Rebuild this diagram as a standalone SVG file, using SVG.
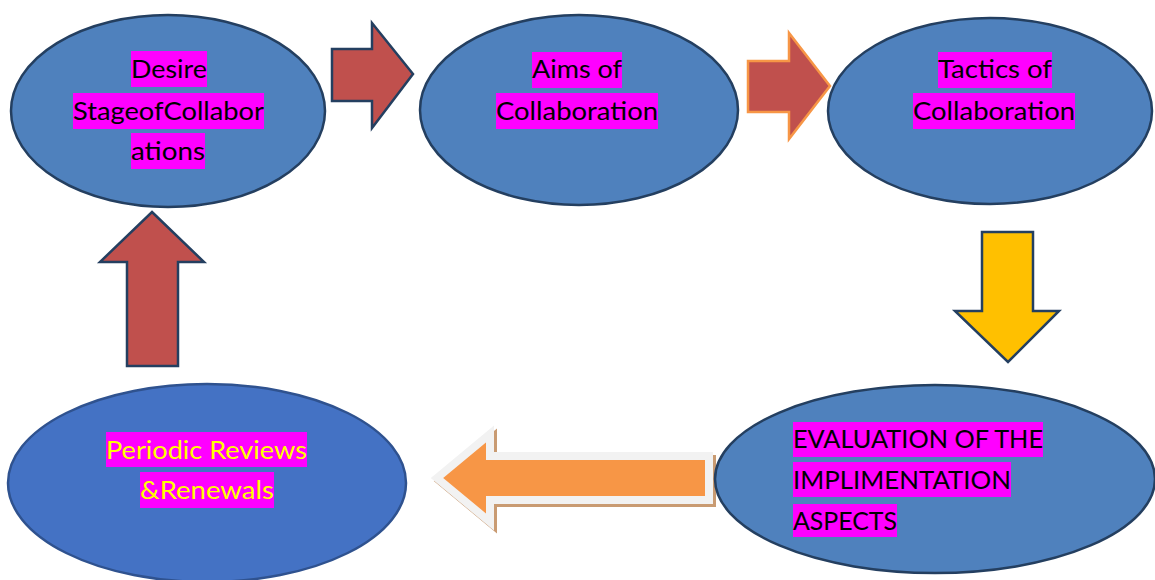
<svg xmlns="http://www.w3.org/2000/svg" width="1155" height="580" viewBox="0 0 1155 580">
<style>
.node{fill:#4f81bd;stroke:#243f60;stroke-width:2.5}
.node2{fill:#4472c4;stroke:#2f528f;stroke-width:2.5}
.hl{fill:#ff00ff}
.t{font-family:Lato,"Open Sans",sans-serif;font-size:25px;fill:#000}
.ty{font-family:Lato,"Open Sans",sans-serif;font-size:25px;fill:#ffff00}
.red{fill:#c0504d;stroke:#243f60;stroke-width:2.5;stroke-linejoin:miter}
</style>
<rect width="1155" height="580" fill="#ffffff"/>
<g id="connectors">
  <polygon class="red" points="332,49 372,49 372,23 413,74 372,128 372,101 332,101"/>
  <polygon points="748,61 789,61 789,33 830,86 789,139 789,112 748,112" fill="#c0504d" stroke="#f79646" stroke-width="2.5"/>
  <polygon points="982,232 1033,232 1033,311 1059,311 1008,362 955,311 982,311" fill="#ffc000" stroke="#243f60" stroke-width="2.5"/>
  <polygon class="red" points="152,212 204,262 178,262 178,366 127,366 127,262 100,262"/>
  <g id="left-arrow">
    <polygon points="440,481 493,437 493,459 712,459 712,503 493,503 493,525" fill="#c99b72" stroke="#c99b72" stroke-width="8" stroke-linejoin="miter"/>
    <polygon points="437,478 490,434 490,456 709,456 709,500 490,500 490,522" fill="#f79646" stroke="#f2f2f2" stroke-width="8" stroke-linejoin="miter"/>
  </g>
</g>
<g id="node-desire">
  <ellipse class="node" cx="168" cy="111" rx="157" ry="96"/>
  <rect class="hl" x="131" y="51" width="76" height="36"/>
  <rect class="hl" x="73" y="93" width="191" height="36"/>
  <rect class="hl" x="131" y="133" width="74" height="36"/>
  <text class="t" x="131" y="78" textLength="76" lengthAdjust="spacingAndGlyphs">Desire</text>
  <text class="t" x="73" y="120" textLength="191" lengthAdjust="spacingAndGlyphs">StageofCollabor</text>
  <text class="t" x="131" y="160" textLength="74" lengthAdjust="spacingAndGlyphs">ations</text>
</g>
<g id="node-aims">
  <ellipse class="node" cx="579" cy="110" rx="159" ry="95"/>
  <rect class="hl" x="532" y="52" width="90" height="36"/>
  <rect class="hl" x="496" y="93" width="162" height="36"/>
  <text class="t" x="532" y="78" textLength="90" lengthAdjust="spacingAndGlyphs">Aims of</text>
  <text class="t" x="496" y="120" textLength="162" lengthAdjust="spacingAndGlyphs">Collaboration</text>
</g>
<g id="node-tactics">
  <ellipse class="node" cx="990" cy="111" rx="162" ry="93"/>
  <rect class="hl" x="938" y="52" width="114" height="36"/>
  <rect class="hl" x="913" y="93" width="162" height="36"/>
  <text class="t" x="938" y="78" textLength="114" lengthAdjust="spacingAndGlyphs">Tactics of</text>
  <text class="t" x="913" y="120" textLength="162" lengthAdjust="spacingAndGlyphs">Collaboration</text>
</g>
<g id="node-evaluation">
  <ellipse class="node" cx="935" cy="479" rx="220" ry="94"/>
  <rect class="hl" x="793" y="422" width="250" height="35"/>
  <rect class="hl" x="793" y="462" width="218" height="35"/>
  <rect class="hl" x="793" y="504" width="104" height="33"/>
  <text class="t" x="793" y="448" textLength="250" lengthAdjust="spacingAndGlyphs">EVALUATION OF THE</text>
  <text class="t" x="793" y="489" textLength="218" lengthAdjust="spacingAndGlyphs">IMPLIMENTATION</text>
  <text class="t" x="793" y="530" textLength="104" lengthAdjust="spacingAndGlyphs">ASPECTS</text>
</g>
<g id="node-periodic">
  <ellipse class="node2" cx="207" cy="483" rx="199" ry="99"/>
  <rect class="hl" x="106" y="432" width="201" height="35"/>
  <rect class="hl" x="140" y="472" width="134" height="36"/>
  <text class="ty" x="106" y="459" textLength="201" lengthAdjust="spacingAndGlyphs">Periodic Reviews</text>
  <text class="ty" x="140" y="499" textLength="134" lengthAdjust="spacingAndGlyphs">&amp;Renewals</text>
</g>
</svg>
